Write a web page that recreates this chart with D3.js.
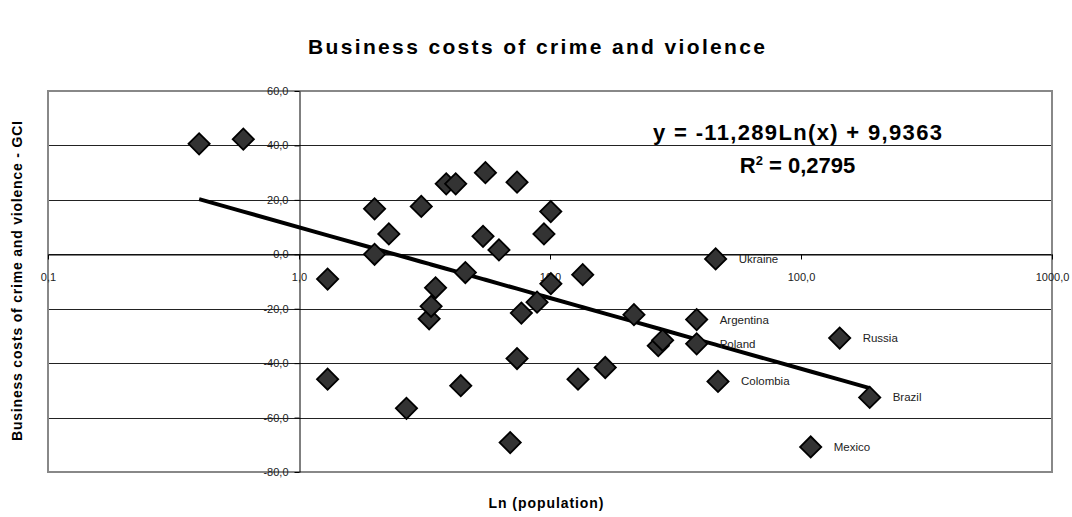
<!DOCTYPE html>
<html>
<head>
<meta charset="utf-8">
<script src="https://cdn.jsdelivr.net/npm/d3@7"></script>
<style>
  body { margin: 0; background: #fff; }
  svg { display: block; font-family: Arial, "Liberation Sans", sans-serif; }
  .axis path, .axis line { stroke: #000; }
  .axis text { font-size: 11px; fill: #222; }
</style>
</head>
<body>
<svg width="1072" height="517"></svg>
<script>
"use strict";

// population (millions) for each country in the sample
var populacao = [0.40, 0.60, 1.30, 1.30, 2.00, 2.00, 2.28, 2.68, 3.07, 3.30,
    3.36, 3.50, 3.86, 4.21, 4.41, 4.60, 5.41, 5.53, 6.26, 6.94,
    7.39, 7.39, 7.69, 8.88, 9.46, 10.07, 10.08, 12.93, 13.50, 16.60,
    21.6, 27.0, 28.1, 38.4, 38.4, 45.7, 46.7, 109.3, 142.6, 187.8];

// GCI business costs of crime and violence
var custos = [40.6, 42.3, -9.1, -45.9, 16.7, 0.0, 7.5, -56.6, 17.6, -23.7,
    -19.1, -12.3, 25.9, 25.9, -48.3, -6.7, 6.6, 30.0, 1.6, -69.2,
    26.5, -38.3, -21.6, -17.6, 7.5, 15.7, -10.8, -45.9, -7.5, -41.6,
    -22.2, -33.6, -31.6, -24.0, -32.9, -1.7, -46.7, -70.8, -30.8, -52.6];

// only some of the points carry a name
var paises = ["", "", "", "", "", "", "", "", "", "",
    "", "", "", "", "", "", "", "", "", "",
    "", "", "", "", "", "", "", "", "", "",
    "", "", "", "Argentina", "Poland", "Ukraine", "Colombia", "Mexico", "Russia", "Brazil"];

var ticksX = [0.1, 1, 10, 100, 1000];
var ticksY = [60, 40, 20, 0, -20, -40, -60, -80];

// logarithmic trendline reported by the spreadsheet
var tendenciaA = -11.289;
var tendenciaB = 9.9363;
var textoEquacao = "y = -11,289Ln(x) + 9,9363";
var textoR2 = "0,2795";

var svg = d3.select("svg");

var esquerda = 48, direita = 1052, topo = 91, base = 472;

var x = d3.scaleLog().domain([0.1, 1000]).range([esquerda, direita]);
var y = d3.scaleLinear().domain([-80, 60]).range([base, topo]);

var locale = d3.formatLocale({decimal: ",", thousands: ".", grouping: [3], currency: ["", ""], minus: "-"});
var fmt = locale.format(".1f");

// plot area
svg.append("rect")
    .attr("x", esquerda).attr("y", topo)
    .attr("width", direita - esquerda).attr("height", base - topo)
    .attr("fill", "#fff");

// horizontal gridlines
svg.append("g")
    .selectAll("line")
    .data(ticksY)
    .enter().append("line")
    .attr("x1", esquerda).attr("x2", direita)
    .attr("y1", d => Math.round(y(d)) + 0.5)
    .attr("y2", d => Math.round(y(d)) + 0.5)
    .attr("stroke", "#222")
    .attr("stroke-width", 1.2);

// border of plot area
svg.append("rect")
    .attr("x", esquerda).attr("y", topo)
    .attr("width", direita - esquerda).attr("height", base - topo)
    .attr("fill", "none")
    .attr("stroke", "#888")
    .attr("stroke-width", 2);

// y axis crosses at x = 1
svg.append("g")
    .attr("class", "axis")
    .attr("transform", "translate(" + (Math.round(x(1)) + 0.5) + ",0)")
    .call(d3.axisLeft(y).tickValues(ticksY).tickFormat(fmt)
        .tickSize(5).tickSizeOuter(0).tickPadding(6));

// x axis crosses at y = 0
svg.append("g")
    .attr("class", "axis")
    .attr("transform", "translate(0," + (Math.round(y(0)) + 0.5) + ")")
    .call(d3.axisBottom(x).tickValues(ticksX).tickFormat(fmt)
        .tickSize(5).tickSizeOuter(0).tickPadding(14));

// trendline drawn through the observed x values
var xsOrdenados = populacao.slice().sort(d3.ascending);
var linha = d3.line()
    .x(d => x(d))
    .y(d => y(tendenciaA * Math.log(d) + tendenciaB));

svg.append("path")
    .datum(xsOrdenados)
    .attr("d", linha)
    .attr("fill", "none")
    .attr("stroke", "#000")
    .attr("stroke-width", 4)
    .attr("stroke-linejoin", "round");

var pontos = populacao.map(function (p, i) {
    return {x: p, y: custos[i], nome: paises[i]};
});

var diamante = d3.symbol().type(d3.symbolSquare).size(225);

svg.append("g")
    .selectAll("path")
    .data(pontos)
    .enter().append("path")
    .attr("d", diamante)
    .attr("transform", d => "translate(" + x(d.x) + "," + y(d.y) + ") rotate(45)")
    .attr("fill", "#333")
    .attr("stroke", "#000")
    .attr("stroke-width", 1.8);

svg.append("g")
    .selectAll("text")
    .data(pontos.filter(d => d.nome !== ""))
    .enter().append("text")
    .attr("x", d => x(d.x) + 23)
    .attr("y", d => y(d.y) + 4)
    .attr("font-size", "11.5px")
    .attr("fill", "#222")
    .text(d => d.nome);

// title
svg.append("text")
    .attr("x", 536.5).attr("y", 54)
    .attr("text-anchor", "middle")
    .attr("font-size", "21px")
    .attr("font-weight", "bold")
    .attr("textLength", 457)
    .attr("lengthAdjust", "spacing")
    .text("Business costs of crime and violence");

// axis titles
svg.append("text")
    .attr("x", 546).attr("y", 508)
    .attr("text-anchor", "middle")
    .attr("font-size", "14px")
    .attr("font-weight", "bold")
    .attr("textLength", 115)
    .attr("lengthAdjust", "spacing")
    .text("Ln (population)");

svg.append("text")
    .attr("transform", "translate(22,281) rotate(-90)")
    .attr("text-anchor", "middle")
    .attr("font-size", "14px")
    .attr("font-weight", "bold")
    .attr("textLength", 320)
    .attr("lengthAdjust", "spacing")
    .text("Business costs of crime and violence - GCI");

// trendline equation
svg.append("text")
    .attr("x", 797.5).attr("y", 140)
    .attr("text-anchor", "middle")
    .attr("font-size", "22px")
    .attr("font-weight", "bold")
    .attr("textLength", 289)
    .attr("lengthAdjust", "spacing")
    .text(textoEquacao);

var r2 = svg.append("text")
    .attr("x", 797.5).attr("y", 173)
    .attr("text-anchor", "middle")
    .attr("font-size", "22px")
    .attr("font-weight", "bold");
r2.append("tspan").text("R");
r2.append("tspan").attr("dy", -8).attr("font-size", "13px").text("2");
r2.append("tspan").attr("dy", 8).text(" = " + textoR2);
</script>
</body>
</html>
